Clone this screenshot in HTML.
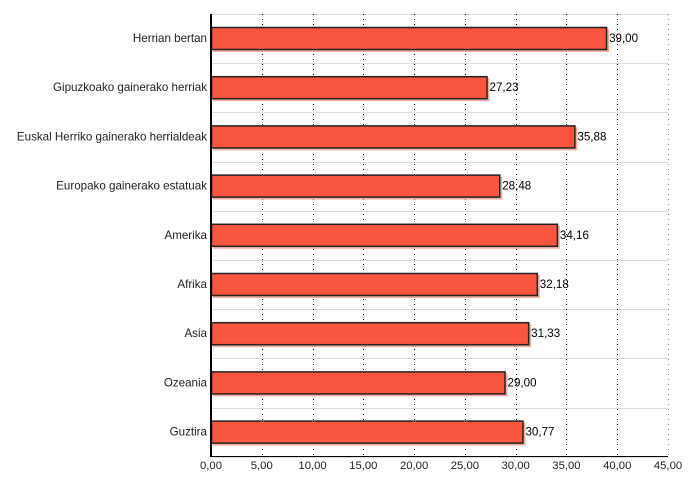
<!DOCTYPE html>
<html><head><style>body{margin:0;background:#fff}svg{display:block;font-family:"Liberation Sans",sans-serif}</style></head>
<body>
<svg width="700" height="500" xmlns="http://www.w3.org/2000/svg">
<script>
(function(){
var svg=document.querySelector('svg'),ns='http://www.w3.org/2000/svg';
function el(t,a,txt){var e=document.createElementNS(ns,t);for(var k in a)e.setAttribute(k,a[k]);if(txt!=null)e.textContent=txt;svg.appendChild(e);return e;}
var x0=211,sc=457/45,T0=14,rh=49.2;
for(var i=0;i<=9;i++){var y=Math.round(T0+i*rh)+0.5;el('line',{x1:x0,x2:668,y1:y,y2:y,stroke:'#ddd'});}
for(var i=1;i<=9;i++){var x=Math.round(x0+i*5*sc)+0.5;el('line',{x1:x,x2:x,y1:T0,y2:457,stroke:i==9?'#888':'#000','stroke-dasharray':'1,4'});}
var L=['Herrian bertan','Gipuzkoako gainerako herriak','Euskal Herriko gainerako herrialdeak','Europako gainerako estatuak','Amerika','Afrika','Asia','Ozeania','Guztira'];
var V=[39.00,27.23,35.88,28.48,34.16,32.18,31.33,29.00,30.77];
for(var i=0;i<9;i++){var y=T0+i*rh+13,w=V[i]*sc;
el('rect',{x:x0+2,y:y+2,width:w,height:23,fill:'#f0b0a0'});
el('rect',{x:x0+0.5,y:y+0.5,width:w-1,height:22,fill:'#fa553e',stroke:'#222','stroke-width':1.5});
el('text',{x:207,y:y+15,'text-anchor':'end','font-size':11.6,fill:'#222'},L[i]);
el('text',{x:x0+w+2,y:y+15,'font-size':11.6,fill:'#000'},V[i].toFixed(2).replace('.',','));}
el('line',{x1:211,x2:211,y1:14,y2:457,stroke:'#000','stroke-width':2});
el('line',{x1:210,x2:668,y1:456.5,y2:456.5,stroke:'#000','stroke-width':1});
for(var i=0;i<=9;i++){var x=x0+i*5*sc;el('text',{x:x,y:469,'text-anchor':'middle','font-size':11.3,fill:'#222'},(i*5).toFixed(2).replace('.',','));}
})();
</script>
</svg>
</body></html>
